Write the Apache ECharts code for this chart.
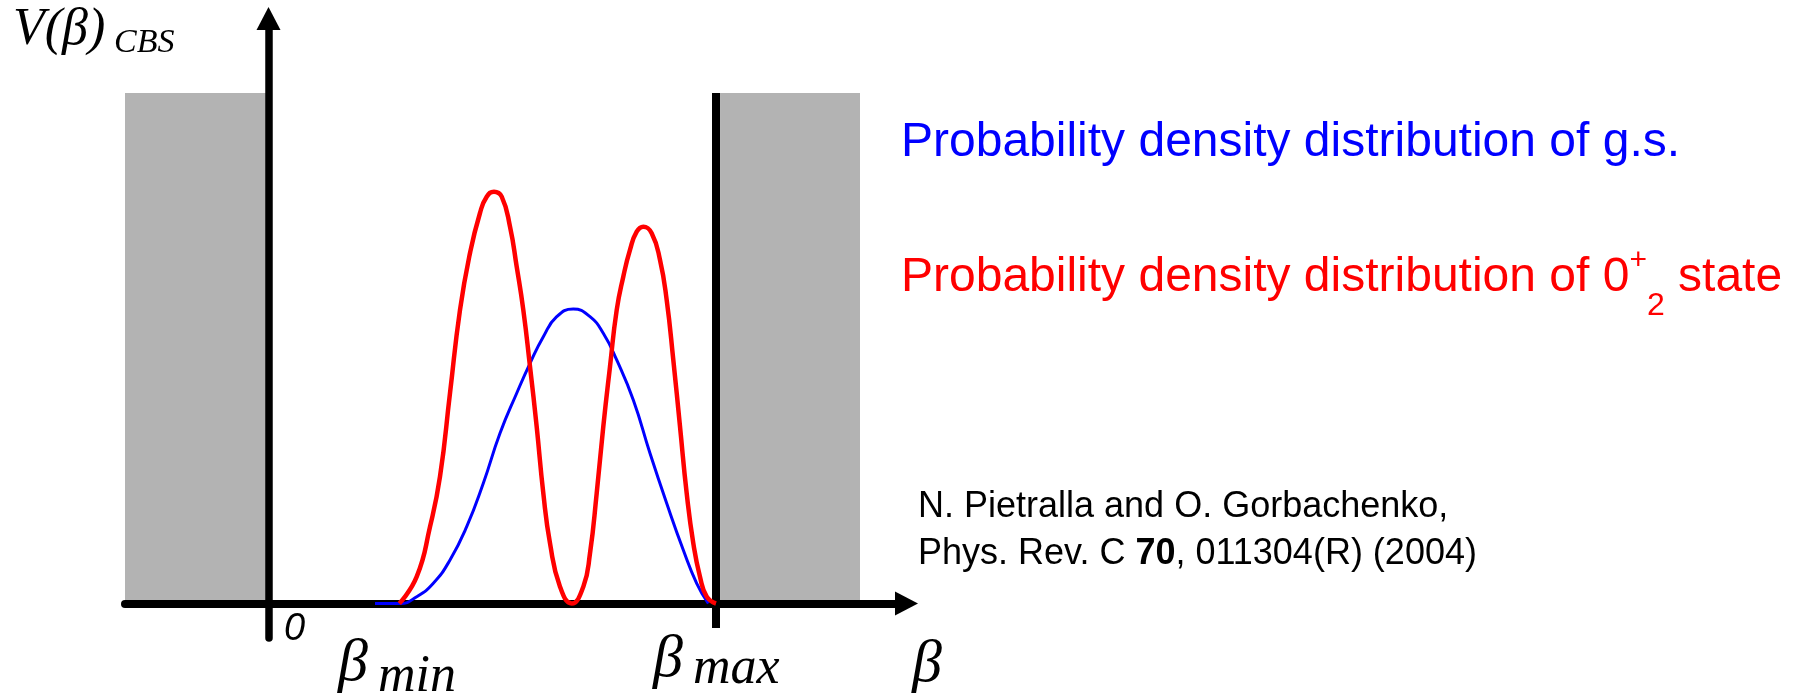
<!DOCTYPE html>
<html>
<head>
<meta charset="utf-8">
<title>CBS potential</title>
<script src="https://cdn.jsdelivr.net/npm/echarts@6/dist/echarts.min.js"></script>
<style>
  html, body { margin: 0; padding: 0; background: #fff; }
  #chart { width: 1796px; height: 693px; }
</style>
</head>
<body>
<div id="chart"></div>
<script>
// beta in units of beta_max (0 = y axis, 1 = beta_max), density in units of wall height
const gsBeta = [0.238, 0.2938, 0.3312, 0.3683, 0.4056, 0.4429, 0.48, 0.5173, 0.5546, 0.5844,
  0.6141, 0.644, 0.6811, 0.7184, 0.7481, 0.7781, 0.8152, 0.8525, 0.8898, 0.9269, 0.9568, 0.9828];
const gsDensity = [0, 0, 0.0133, 0.0396, 0.0852, 0.1504, 0.2355, 0.3334, 0.4118, 0.4705,
  0.5226, 0.5618, 0.5769, 0.5618, 0.5293, 0.477, 0.3986, 0.2942, 0.1963, 0.1048, 0.0396, 0];

const excBeta = [0.2923, 0.3312, 0.3609, 0.3832, 0.4056, 0.4279, 0.4503, 0.4726, 0.4876, 0.5039,
  0.5211, 0.5397, 0.5546, 0.5694, 0.5844, 0.5993, 0.6141, 0.6291, 0.6514, 0.6775,
  0.7035, 0.7184, 0.7334, 0.7481, 0.7631, 0.7781, 0.7928, 0.8078, 0.8228, 0.8376,
  0.8563, 0.8749, 0.8898, 0.9046, 0.9196, 0.9345, 0.9493, 0.9642, 0.9792, 1.0];
const excDensity = [0, 0.0525, 0.1504, 0.2484, 0.4123, 0.5749, 0.6866, 0.7649, 0.7969, 0.8067,
  0.7969, 0.7381, 0.6597, 0.5749, 0.4639, 0.3463, 0.2159, 0.1179, 0.0329, 0,
  0.0329, 0.0983, 0.2159, 0.3463, 0.4639, 0.5749, 0.6402, 0.6925, 0.7283, 0.7381,
  0.7252, 0.6729, 0.5945, 0.477, 0.3463, 0.2159, 0.1179, 0.0525, 0.0133, 0];

// infinite walls of the potential
const leftWall = [-0.3207, 0];
const rightWall = [1.009, 1.3218];
const wallHeight = 1;
const betaMax = 1;
const barrierBottom = -0.048;

// axis ranges
const xMin = -0.3207, xMax = 1.4257;
const yMin = -0.0676, yMax = 1.1459;

const serif = '"Liberation Serif", "Times New Roman", serif';
const sans = '"Liberation Sans", Arial, sans-serif';

const myChart = echarts.init(document.getElementById('chart'));

function zip(xs, ys) {
  return xs.map((x, i) => [x, ys[i]]);
}

function label(x, y, text, size, color, extra) {
  return {
    type: 'text',
    x: x,
    y: y,
    z: 10,
    style: Object.assign({
      text: text,
      fill: color || '#000',
      font: 'italic ' + size + 'px ' + serif,
      align: 'left',
      verticalAlign: 'middle'
    }, extra || {})
  };
}

myChart.setOption({
  animation: false,
  grid: { left: 125, right: 889.5, top: 18.5, bottom: 55 },
  xAxis: {
    type: 'value',
    min: xMin,
    max: xMax,
    z: 1,
    axisLine: {
      onZero: true,
      symbol: ['none', 'triangle'],
      symbolSize: [24, 23],
      lineStyle: { color: '#000', width: 8 }
    },
    axisTick: { show: false },
    axisLabel: { show: false },
    splitLine: { show: false }
  },
  yAxis: {
    type: 'value',
    min: yMin,
    max: yMax,
    z: 1,
    axisLine: {
      onZero: true,
      symbol: ['none', 'triangle'],
      symbolSize: [24, 23],
      lineStyle: { color: '#000', width: 7.5 }
    },
    axisTick: { show: false },
    axisLabel: { show: false },
    splitLine: { show: false }
  },
  series: [
    {
      name: 'barrier',
      type: 'line',
      z: 0,
      symbol: 'none',
      silent: true,
      data: [[betaMax, barrierBottom], [betaMax, wallHeight]],
      lineStyle: { color: '#000', width: 8 },
      markArea: {
        silent: true,
        itemStyle: { color: '#b3b3b3' },
        data: [
          [{ coord: [leftWall[0], 0] }, { coord: [leftWall[1], wallHeight] }],
          [{ coord: [rightWall[0], 0] }, { coord: [rightWall[1], wallHeight] }]
        ]
      }
    },
    {
      name: 'g.s.',
      type: 'line',
      z: 3,
      symbol: 'none',
      smooth: 0.5,
      data: zip(gsBeta, gsDensity),
      lineStyle: { color: '#0000ff', width: 3 }
    },
    {
      name: '0+2',
      type: 'line',
      z: 4,
      symbol: 'none',
      smooth: 0.5,
      data: zip(excBeta, excDensity),
      lineStyle: { color: '#ff0000', width: 4.5 }
    }
  ],
  graphic: [
    // y axis title V(beta)_CBS
    label(13, 30, 'V(β)', 52),
    label(114, 43, 'CBS', 34),
    label(284, 629, '0', 38, '#000', { font: 'italic 38px ' + sans }),
    // beta_min, beta_max, beta
    label(338, 664, 'β', 60),
    label(378, 677, 'min', 52),
    label(653, 660, 'β', 60),
    label(693, 669, 'max', 52),
    label(912, 665, 'β', 60),
    {
      type: 'text', x: 901, y: 143, z: 10,
      style: {
        text: 'Probability density distribution of g.s.',
        fill: '#0000ff', font: '48px ' + sans, verticalAlign: 'middle'
      }
    },
    {
      type: 'text', x: 901, y: 278, z: 10,
      style: {
        text: '{n|Probability density distribution of 0}{sup|+}{sub|2}{n| state}',
        fill: '#ff0000',
        verticalAlign: 'middle',
        rich: {
          n: { fontSize: 48, fontFamily: sans, lineHeight: 88, fill: '#ff0000' },
          sup: { fontSize: 30, fontFamily: sans, lineHeight: 30, verticalAlign: 'top', padding: [12, 0, 0, 0], fill: '#ff0000' },
          sub: { fontSize: 32, fontFamily: sans, lineHeight: 32, verticalAlign: 'bottom', fill: '#ff0000' }
        }
      }
    },
    {
      type: 'text', x: 918, y: 507, z: 10,
      style: {
        text: 'N. Pietralla and O. Gorbachenko,',
        fill: '#000', font: '36px ' + sans, verticalAlign: 'middle'
      }
    },
    {
      type: 'text', x: 918, y: 554, z: 10,
      style: {
        text: '{n|Phys. Rev. C }{b|70}{n|, 011304(R) (2004)}',
        fill: '#000',
        verticalAlign: 'middle',
        rich: {
          n: { fontSize: 36, fontFamily: sans, fill: '#000' },
          b: { fontSize: 36, fontFamily: sans, fontWeight: 'bold', fill: '#000' }
        }
      }
    }
  ]
});
</script>
</body>
</html>
